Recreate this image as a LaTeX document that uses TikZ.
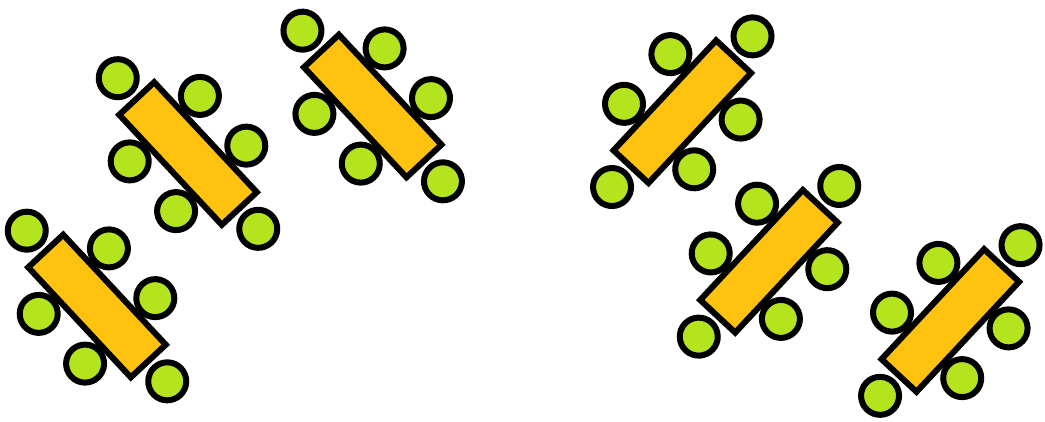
\documentclass[tikz,border=0pt]{standalone}
\usepackage{tikz}

\definecolor{tableyellow}{RGB}{255,195,15}
\definecolor{chairgreen}{RGB}{180,228,30}

\begin{document}
\begin{tikzpicture}[x=1pt, y=-1pt,
    chair/.style={draw=black, line width=6pt, fill=chairgreen},
    desk/.style={draw=black, line width=6pt, fill=tableyellow}]
    % Frame of the picture
    \useasboundingbox (0,0) rectangle (1045,421);

    % Tables with six chairs each: centre x / centre y / angle
    \foreach \cx/\cy/\ang in {97/306/-47, 188/153.5/-47, 372.7/106/-47,
                              682.3/111.7/47, 769/261.3/47, 950.3/320.5/47} {
        \begin{scope}[shift={(\cx,\cy)}, rotate=\ang]
            % chairs at the ends
            \foreach \u in {-103, 103} {
                \draw[chair] (\u, 0) circle (19pt);
            }
            % chairs along the long sides
            \foreach \u in {-34, 34} {
                \foreach \v in {-48, 48} {
                    \draw[chair] (\u, \v) circle (19pt);
                }
            }
            % table
            \draw[desk] (-75.2, -23.9) rectangle (75.2, 23.9);
        \end{scope}
    }
\end{tikzpicture}
\end{document}
